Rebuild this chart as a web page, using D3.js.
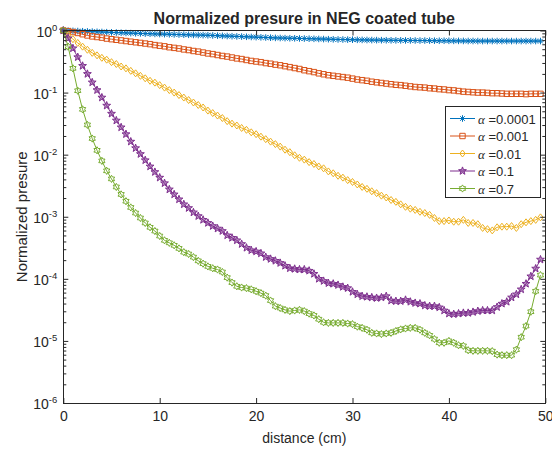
<!DOCTYPE html>
<html><head><meta charset="utf-8">
<script src="https://cdn.jsdelivr.net/npm/d3@7"></script>
<style>
body{margin:0;background:#fff}
svg{display:block}
text{font-family:"Liberation Sans",Arial,Helvetica,sans-serif;fill:#262626}
</style>
</head><body>
<svg id="chart" width="552" height="449"></svg>
<script>
// ---- data ----
const distance = [0,0.5,1,1.5,2,2.5,3,3.5,4,4.5,5,5.5,6,6.5,7,7.5,8,8.5,9,9.5,
10,10.5,11,11.5,12,12.5,13,13.5,14,14.5,15,15.5,16,16.5,17,17.5,18,18.5,19,19.5,
20,20.5,21,21.5,22,22.5,23,23.5,24,24.5,25,25.5,26,26.5,27,27.5,28,28.5,29,29.5,
30,30.5,31,31.5,32,32.5,33,33.5,34,34.5,35,35.5,36,36.5,37,37.5,38,38.5,39,39.5,
40,40.5,41,41.5,42,42.5,43,43.5,44,44.5,45,45.5,46,46.5,47,47.5,48,48.5,49,49.5];

const alphaLabels = ["0.0001","0.001","0.01","0.1","0.7"];

// log10 of normalized pressure for each alpha
const log10P_a0001 = [0,-0.003,-0.006,-0.009,-0.012,-0.015,-0.018,-0.021,-0.024,-0.027,
-0.030,-0.033,-0.036,-0.039,-0.042,-0.045,-0.047,-0.050,-0.052,-0.055,
-0.057,-0.059,-0.061,-0.063,-0.065,-0.067,-0.069,-0.071,-0.073,-0.075,
-0.077,-0.080,-0.083,-0.086,-0.089,-0.092,-0.095,-0.098,-0.101,-0.104,
-0.107,-0.110,-0.113,-0.116,-0.119,-0.121,-0.123,-0.125,-0.126,-0.128,
-0.130,-0.132,-0.134,-0.136,-0.138,-0.140,-0.142,-0.144,-0.145,-0.147,
-0.148,-0.150,-0.151,-0.153,-0.154,-0.155,-0.156,-0.157,-0.158,-0.159,
-0.159,-0.160,-0.160,-0.161,-0.162,-0.162,-0.163,-0.164,-0.165,-0.165,
-0.166,-0.167,-0.167,-0.168,-0.169,-0.169,-0.170,-0.170,-0.170,-0.170,
-0.170,-0.170,-0.170,-0.170,-0.170,-0.170,-0.170,-0.170,-0.170,-0.170];

const log10P_a001 = [0,-0.010,-0.025,-0.040,-0.060,-0.080,-0.095,-0.105,-0.115,-0.130,
-0.140,-0.150,-0.160,-0.170,-0.180,-0.190,-0.200,-0.210,-0.220,-0.235,
-0.245,-0.255,-0.270,-0.280,-0.290,-0.305,-0.315,-0.330,-0.340,-0.355,
-0.370,-0.380,-0.395,-0.410,-0.420,-0.435,-0.450,-0.460,-0.475,-0.490,
-0.500,-0.510,-0.525,-0.535,-0.550,-0.560,-0.575,-0.590,-0.605,-0.620,
-0.640,-0.655,-0.670,-0.690,-0.705,-0.720,-0.730,-0.740,-0.750,-0.760,
-0.775,-0.790,-0.800,-0.810,-0.825,-0.835,-0.845,-0.855,-0.865,-0.875,
-0.880,-0.890,-0.900,-0.910,-0.915,-0.920,-0.930,-0.935,-0.945,-0.950,
-0.960,-0.965,-0.975,-0.985,-0.990,-0.995,-1.000,-1.000,-1.005,-1.010,
-1.010,-1.015,-1.020,-1.020,-1.020,-1.020,-1.025,-1.020,-1.020,-1.020];

const log10P_a01 = [0,-0.07,-0.14,-0.20,-0.26,-0.31,-0.36,-0.40,-0.44,-0.47,
-0.51,-0.54,-0.58,-0.61,-0.65,-0.69,-0.73,-0.77,-0.81,-0.84,
-0.88,-0.92,-0.96,-1.00,-1.04,-1.08,-1.12,-1.16,-1.20,-1.24,
-1.29,-1.33,-1.37,-1.41,-1.46,-1.50,-1.53,-1.57,-1.60,-1.64,
-1.67,-1.71,-1.75,-1.79,-1.83,-1.87,-1.92,-1.96,-2.01,-2.05,
-2.08,-2.12,-2.15,-2.19,-2.22,-2.27,-2.30,-2.34,-2.37,-2.41,
-2.44,-2.48,-2.52,-2.55,-2.59,-2.62,-2.66,-2.69,-2.73,-2.76,
-2.80,-2.84,-2.87,-2.89,-2.92,-2.94,-2.97,-3.02,-3.07,-3.07,
-3.06,-3.08,-3.08,-3.05,-3.10,-3.10,-3.12,-3.18,-3.20,-3.22,
-3.17,-3.16,-3.16,-3.15,-3.18,-3.12,-3.09,-3.07,-3.05,-3.01];

const log10P_a1 = [0,-0.126,-0.287,-0.43,-0.57,-0.70,-0.836,-0.96,-1.08,-1.21,
-1.34,-1.45,-1.56,-1.67,-1.79,-1.895,-1.99,-2.09,-2.19,-2.28,
-2.37,-2.46,-2.56,-2.64,-2.72,-2.80,-2.86,-2.93,-2.99,-3.05,
-3.10,-3.15,-3.19,-3.23,-3.30,-3.34,-3.38,-3.44,-3.50,-3.54,
-3.56,-3.59,-3.65,-3.68,-3.71,-3.745,-3.79,-3.83,-3.84,-3.85,
-3.85,-3.87,-3.92,-4.00,-4.035,-4.07,-4.08,-4.10,-4.13,-4.15,
-4.21,-4.25,-4.28,-4.29,-4.30,-4.31,-4.30,-4.28,-4.35,-4.36,
-4.36,-4.34,-4.37,-4.39,-4.40,-4.43,-4.44,-4.44,-4.46,-4.51,
-4.56,-4.57,-4.56,-4.55,-4.55,-4.535,-4.52,-4.51,-4.51,-4.51,
-4.455,-4.40,-4.37,-4.30,-4.25,-4.17,-4.08,-3.96,-3.835,-3.69];

const log10P_a7 = [0,-0.26,-0.61,-0.97,-1.27,-1.52,-1.74,-1.93,-2.10,-2.26,
-2.39,-2.52,-2.64,-2.75,-2.85,-2.94,-3.02,-3.10,-3.17,-3.23,
-3.31,-3.38,-3.42,-3.46,-3.51,-3.57,-3.60,-3.65,-3.71,-3.755,
-3.80,-3.83,-3.85,-3.89,-3.98,-4.06,-4.12,-4.14,-4.15,-4.17,
-4.20,-4.23,-4.27,-4.35,-4.44,-4.47,-4.50,-4.52,-4.51,-4.50,
-4.52,-4.56,-4.59,-4.65,-4.70,-4.71,-4.71,-4.71,-4.71,-4.72,
-4.73,-4.77,-4.79,-4.82,-4.87,-4.88,-4.89,-4.88,-4.87,-4.84,
-4.815,-4.80,-4.79,-4.79,-4.82,-4.87,-4.91,-4.97,-5.03,-5.03,
-5.00,-5.03,-5.07,-5.08,-5.15,-5.16,-5.16,-5.16,-5.16,-5.165,
-5.22,-5.23,-5.23,-5.23,-5.14,-4.94,-4.76,-4.53,-4.20,-3.94];

const xTickValues = [0,10,20,30,40,50];
const yTickExponents = [0,-1,-2,-3,-4,-5,-6];
const seriesColors = ["#0072BD","#D95319","#EDB120","#7E2F8E","#77AC30"];
const seriesMarkers = ["asterisk","square","diamond","pentagram","hexagram"];

const titleText = "Normalized presure in NEG coated tube";
const xLabelText = "distance (cm)";
const yLabelText = "Normalized presure";

(function () {
// ---- layout ----
const pLeft = 63.3, pRight = 545.3, pTop = 30.5, pBottom = 403;
const svg = d3.select("#chart");
const x = d3.scaleLinear().domain([0, 50]).range([pLeft, pRight]);
const y = d3.scaleLog().domain([1e-6, 1]).range([pBottom, pTop]);

const allLogs = [log10P_a0001, log10P_a001, log10P_a01, log10P_a1, log10P_a7];
const series = allLogs.map((arr, i) => ({
  label: alphaLabels[i],
  color: seriesColors[i],
  marker: seriesMarkers[i],
  points: arr.map((e, j) => [distance[j], Math.pow(10, e)])
}));

function starPath(n, R, r) {
  let p = "";
  for (let i = 0; i < 2 * n; i++) {
    const a = -Math.PI / 2 + i * Math.PI / n;
    const rad = i % 2 === 0 ? R : r;
    p += (i === 0 ? "M" : "L") + (rad * Math.cos(a)).toFixed(2) + "," + (rad * Math.sin(a)).toFixed(2);
  }
  return p + "Z";
}
function markerPath(type) {
  if (type === "asterisk") {
    const r = 3.3, d = 0.7 * r;
    return `M${-r},0L${r},0M0,${-r}L0,${r}M${-d},${-d}L${d},${d}M${-d},${d}L${d},${-d}`;
  }
  if (type === "square") { const s = 2.7; return `M${-s},${-s}h${2*s}v${2*s}h${-2*s}Z`; }
  if (type === "diamond") return "M0,-3.5L2.7,0L0,3.5L-2.7,0Z";
  if (type === "pentagram") return starPath(5, 4.1, 1.7);
  if (type === "hexagram") return starPath(6, 3.6, 2.1);
  return "";
}
const markerFill = { pentagram: 0.55 };

svg.append("rect").attr("width", 552).attr("height", 449).attr("fill", "#fff");

// ---- data lines & markers ----
const plot = svg.append("g");
const line = d3.line().x(d => x(d[0])).y(d => y(d[1]));
series.forEach(s => {
  const g = plot.append("g");
  g.append("path").attr("d", line(s.points)).attr("fill", "none")
    .attr("stroke", s.color).attr("stroke-width", 1);
  g.selectAll("path.m").data(s.points).join("path").attr("class", "m")
    .attr("d", markerPath(s.marker))
    .attr("transform", d => `translate(${x(d[0])},${y(d[1])})`)
    .attr("fill", markerFill[s.marker] ? s.color : "none")
    .attr("fill-opacity", markerFill[s.marker] || 0)
    .attr("stroke", s.color).attr("stroke-width", 1);
});

// ---- axes ----
const axisColor = "#262626";
function styleAxis(g) {
  g.select(".domain").remove();
  g.selectAll(".tick line").attr("stroke", axisColor).attr("stroke-width", 1);
}
const minorTicks = y.ticks().filter(v => !yTickExponents.some(e => Math.abs(Math.log10(v) - e) < 1e-6));
const majorTicks = yTickExponents.map(e => Math.pow(10, e));

svg.append("g").attr("transform", `translate(0,${pBottom})`)
  .call(d3.axisBottom(x).tickValues(xTickValues).tickSize(-5).tickPadding(8).tickFormat(d3.format("d")))
  .call(styleAxis)
  .call(g => g.selectAll("text").attr("font-size", 14).attr("fill", axisColor)
    .attr("font-family", '"Liberation Sans",Arial,sans-serif'));
svg.append("g").attr("transform", `translate(0,${pTop})`)
  .call(d3.axisTop(x).tickValues(xTickValues).tickSize(-5).tickFormat(""))
  .call(styleAxis);
[[d3.axisLeft, pLeft], [d3.axisRight, pRight]].forEach(([ax, pos]) => {
  svg.append("g").attr("transform", `translate(${pos},0)`)
    .call(ax(y).tickValues(majorTicks).tickSize(-5).tickFormat(""))
    .call(styleAxis);
  svg.append("g").attr("transform", `translate(${pos},0)`)
    .call(ax(y).tickValues(minorTicks).tickSize(-3).tickFormat(""))
    .call(styleAxis);
});

// y tick labels 10^k
const yl = svg.append("g");
yTickExponents.forEach(e => {
  const t = yl.append("text").attr("x", pLeft - 6).attr("y", y(Math.pow(10, e)) + 6)
    .attr("text-anchor", "end").attr("font-size", 14).attr("fill", axisColor);
  t.append("tspan").text("10");
  t.append("tspan").attr("font-size", 9.5).attr("dy", -6).text(String(e));
});

// box
svg.append("rect").attr("x", pLeft).attr("y", pTop).attr("width", pRight - pLeft).attr("height", pBottom - pTop)
  .attr("fill", "none").attr("stroke", axisColor).attr("stroke-width", 1).attr("shape-rendering", "crispEdges");

// ---- titles ----
svg.append("text").attr("x", (pLeft + pRight) / 2).attr("y", 24).attr("text-anchor", "middle")
  .attr("font-size", 16).attr("font-weight", "bold").attr("fill", "#000").text(titleText);
svg.append("text").attr("x", (pLeft + pRight) / 2).attr("y", 443).attr("text-anchor", "middle")
  .attr("font-size", 14).attr("fill", axisColor).text(xLabelText);
svg.append("text").attr("transform", `translate(27,${(pTop + pBottom) / 2}) rotate(-90)`)
  .attr("text-anchor", "middle").attr("font-size", 15).attr("fill", axisColor).text(yLabelText);

// ---- legend ----
const lg = svg.append("g");
lg.append("rect").attr("x", 445.5).attr("y", 106.5).attr("width", 95).attr("height", 91)
  .attr("fill", "#fff").attr("stroke", axisColor).attr("stroke-width", 1);
series.forEach((s, i) => {
  const cy = 118.5 + i * 17.5;
  lg.append("line").attr("x1", 450).attr("x2", 475).attr("y1", cy).attr("y2", cy)
    .attr("stroke", s.color).attr("stroke-width", 1);
  lg.append("path").attr("d", markerPath(s.marker)).attr("transform", `translate(462.5,${cy})`)
    .attr("fill", markerFill[s.marker] ? s.color : "none")
    .attr("fill-opacity", markerFill[s.marker] || 0)
    .attr("stroke", s.color).attr("stroke-width", 1);
  const t = lg.append("text").attr("x", 478).attr("y", cy + 5).attr("font-size", 13).attr("fill", axisColor);
  t.append("tspan").attr("font-family", '"Liberation Serif","DejaVu Serif",serif').attr("font-style", "italic").text("α");
  t.append("tspan").text(" =" + s.label);
});
})();
</script>
</body></html>
